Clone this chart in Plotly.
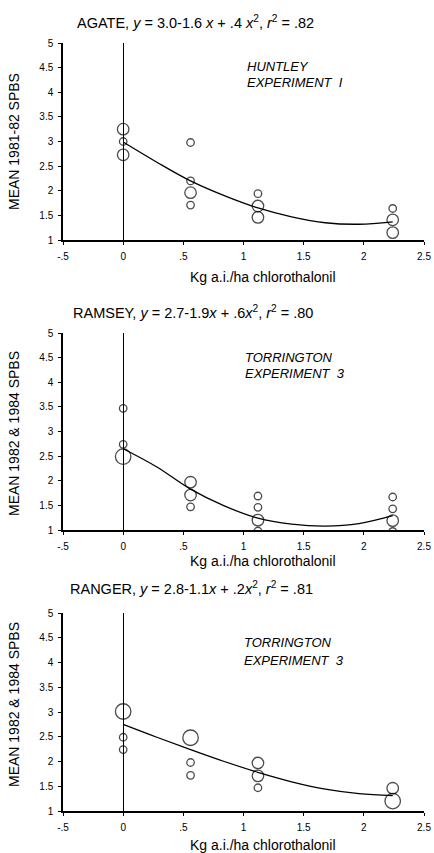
import plotly.graph_objects as go

W, H = 434, 853

# ---------------- data ----------------
rates = [0.0, 0.56, 1.12, 2.24]

# Panel 1: AGATE (Huntley, Experiment 1)
agate_x = [0, 0, 0, 0.56, 0.56, 0.56, 0.56, 1.12, 1.12, 1.12, 2.24, 2.24, 2.24]
agate_y = [3.25, 3.0, 2.73, 2.98, 2.2, 1.96, 1.71, 1.94, 1.69, 1.46, 1.64, 1.41, 1.15]
agate_n = [2, 1, 2, 1, 1, 2, 1, 1, 2, 2, 1, 2, 2]

# Panel 2: RAMSEY (Torrington, Experiment 3)
ramsey_x = [0, 0, 0, 0.56, 0.56, 0.56, 1.12, 1.12, 1.12, 1.12, 2.24, 2.24, 2.24, 2.24]
ramsey_y = [3.47, 2.74, 2.49, 1.97, 1.71, 1.47, 1.69, 1.46, 1.2, 0.98, 1.67, 1.43, 1.19, 0.97]
ramsey_n = [1, 1, 3, 2, 2, 1, 1, 1, 2, 1, 1, 1, 2, 1]

# Panel 3: RANGER (Torrington, Experiment 3)
ranger_x = [0, 0, 0, 0.56, 0.56, 0.56, 1.12, 1.12, 1.12, 2.24, 2.24]
ranger_y = [3.01, 2.49, 2.24, 2.48, 1.98, 1.72, 1.97, 1.71, 1.47, 1.46, 1.2]
ranger_n = [3, 1, 1, 3, 1, 1, 2, 2, 1, 2, 3]

# fitted curves
curve_x = [0, 0.28, 0.56, 0.84, 1.12, 1.4, 1.68, 1.96, 2.24]
agate_fit = [2.99, 2.58, 2.20, 1.90, 1.65, 1.47, 1.35, 1.32, 1.37]
ramsey_fit = [2.65, 2.28, 1.83, 1.49, 1.24, 1.12, 1.08, 1.13, 1.29]
ranger_fit = [2.75, 2.49, 2.24, 2.00, 1.78, 1.59, 1.44, 1.35, 1.31]

x_tickvals = [-0.5, 0, 0.5, 1, 1.5, 2, 2.5]
x_ticktext = ["-.5", "0", ".5", "1", "1.5", "2", "2.5"]
y_tickvals = [1, 1.5, 2, 2.5, 3, 3.5, 4, 4.5, 5]
y_ticktext = ["1", "1.5", "2", "2.5", "3", "3.5", "4", "4.5", "5"]

titles = [
    "AGATE, <i>y</i> = 3.0-1.6 <i>x</i> + .4 <i>x</i><sup>2</sup>, <i>r</i><sup>2</sup> = .82",
    "RAMSEY, <i>y</i> = 2.7-1.9<i>x</i> + .6<i>x</i><sup>2</sup>, <i>r</i><sup>2</sup> = .80",
    "RANGER, <i>y</i> = 2.8-1.1<i>x</i> + .2<i>x</i><sup>2</sup>, <i>r</i><sup>2</sup> = .81",
]
sites = [("HUNTLEY", "EXPERIMENT  I"), ("TORRINGTON", "EXPERIMENT  3"), ("TORRINGTON", "EXPERIMENT  3")]
y_titles = ["MEAN 1981-82 SPBS", "MEAN 1982 & 1984 SPBS", "MEAN 1982 & 1984 SPBS"]
x_title = "Kg a.i./ha chlorothalonil"

# ---------------- layout geometry (pixels) ----------------
FONT = "Liberation Sans, Arial, sans-serif"
x_left, x_right = 63, 424
panels_px = [(43, 240), (333, 530), (613, 811)]  # (top, bottom) of each plot area
title_py = [22, 312, 588]
title_px = [75, 71, 68]
site_py = [(66, 82), (357, 373), (642, 660)]
site_px = [245, 243, 242]
ytitle_py = [142, 434, 705]
xtitle_py = [277, 561, 845]

size_map = {1: 7.5, 2: 11.5, 3: 15.5}

fig = go.Figure()
sets = [(agate_x, agate_y, agate_n, agate_fit),
        (ramsey_x, ramsey_y, ramsey_n, ramsey_fit),
        (ranger_x, ranger_y, ranger_n, ranger_fit)]

annotations = []
for i, (px_, py_, n_, fit) in enumerate(sets):
    xa = "x" if i == 0 else f"x{i+1}"
    ya = "y" if i == 0 else f"y{i+1}"
    fig.add_trace(go.Scatter(
        x=curve_x, y=fit, mode="lines", line=dict(color="black", width=1.3, shape="spline"),
        xaxis=xa, yaxis=ya, showlegend=False, hoverinfo="skip"))
    fig.add_trace(go.Scatter(
        x=px_, y=py_, mode="markers",
        marker=dict(size=[size_map[k] for k in n_], color="rgba(255,255,255,0)",
                    line=dict(color="black", width=1.3)),
        xaxis=xa, yaxis=ya, showlegend=False))

    top, bot = panels_px[i]
    axkey = "xaxis" if i == 0 else f"xaxis{i+1}"
    aykey = "yaxis" if i == 0 else f"yaxis{i+1}"
    fig.layout[axkey] = dict(
        domain=[x_left / W, x_right / W], range=[-0.5, 2.5], anchor=ya,
        tickvals=x_tickvals, ticktext=x_ticktext, ticks="outside", ticklen=3,
        tickcolor="black", tickwidth=1.2, showline=True, linecolor="black", linewidth=1.5,
        showgrid=False, zeroline=True, zerolinecolor="black", zerolinewidth=1.3,
        tickfont=dict(family=FONT, size=10, color="black"), ticklabelstandoff=3,
        fixedrange=True)
    fig.layout[aykey] = dict(
        domain=[1 - bot / H, 1 - top / H], range=[1, 5], anchor=xa,
        tickvals=y_tickvals, ticktext=y_ticktext, ticks="outside", ticklen=3,
        tickcolor="black", tickwidth=1.2, showline=True, linecolor="black", linewidth=1.5,
        showgrid=False, zeroline=False,
        tickfont=dict(family=FONT, size=10, color="black"), ticklabelstandoff=3,
        fixedrange=True)

    annotations.append(dict(
        text=titles[i], xref="paper", yref="paper", x=title_px[i] / W, y=1 - title_py[i] / H,
        xanchor="left", yanchor="middle", showarrow=False,
        font=dict(family=FONT, size=14.5, color="black")))
    for k, line in enumerate(sites[i]):
        annotations.append(dict(
            text=f"<i>{line}</i>", xref="paper", yref="paper", x=site_px[i] / W,
            y=1 - site_py[i][k] / H, xanchor="left", yanchor="middle", showarrow=False,
            font=dict(family=FONT, size=13, color="black")))
    annotations.append(dict(
        text=y_titles[i], xref="paper", yref="paper", x=14 / W, y=1 - ytitle_py[i] / H,
        xanchor="center", yanchor="middle", textangle=-90, showarrow=False,
        font=dict(family=FONT, size=14, color="black")))
    annotations.append(dict(
        text=x_title, xref="paper", yref="paper", x=263 / W, y=1 - xtitle_py[i] / H,
        xanchor="center", yanchor="middle", showarrow=False,
        font=dict(family=FONT, size=14, color="black")))

fig.update_layout(
    width=W, height=H, margin=dict(l=0, r=0, t=0, b=0, autoexpand=False),
    paper_bgcolor="white", plot_bgcolor="white", annotations=annotations,
    showlegend=False)

fig.write_html("out.html", config={"displayModeBar": False})
